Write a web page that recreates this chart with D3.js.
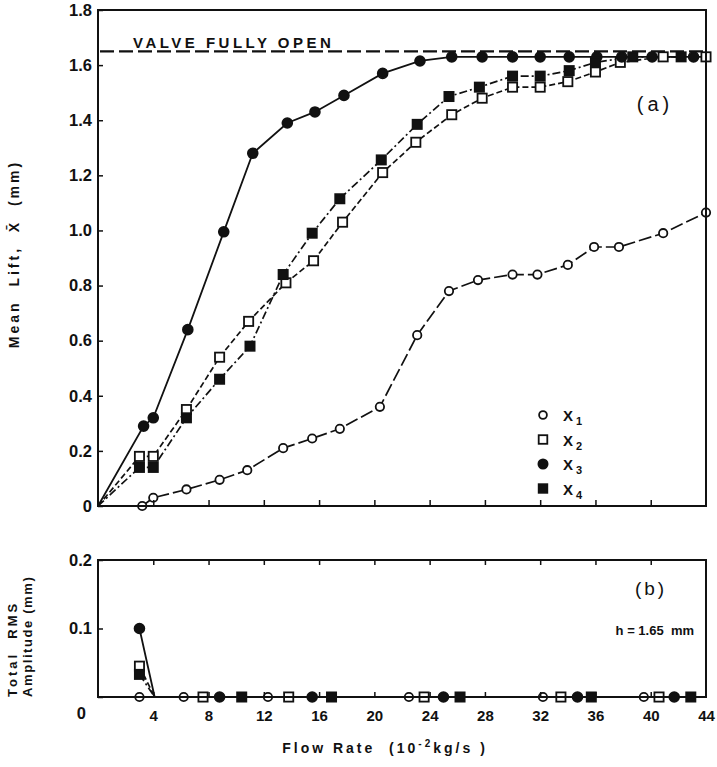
<!DOCTYPE html>
<html>
<head>
<meta charset="utf-8">
<script src="https://cdn.jsdelivr.net/npm/d3@7"></script>
<style>
  body { margin: 0; background: #fff; }
  text { font-family: "Liberation Sans", Arial, sans-serif; font-weight: bold; fill: #111; }
</style>
</head>
<body>
<div id="chart"></div>
<script>
// ---- data ----
var seriesNames = ["X1", "X2", "X3", "X4"];

// (a) mean lift (mm) vs flow rate (10^-2 kg/s)
var flowX1 = [3.2, 4.0, 6.4, 8.8, 10.8, 13.4, 15.5, 17.5, 20.4, 23.1, 25.4, 27.5, 30.0, 31.8, 34.0, 35.9, 37.7, 40.9, 44.0];
var liftX1 = [0.0, 0.03, 0.06, 0.095, 0.13, 0.21, 0.245, 0.28, 0.36, 0.62, 0.78, 0.82, 0.84, 0.84, 0.875, 0.94, 0.94, 0.99, 1.065];

var flowX2 = [0, 3.0, 4.0, 6.4, 8.8, 10.9, 13.6, 15.6, 17.7, 20.6, 23.0, 25.6, 27.8, 30.0, 32.0, 34.0, 36.0, 37.8, 40.9, 44.0];
var liftX2 = [0, 0.18, 0.18, 0.35, 0.54, 0.67, 0.81, 0.89, 1.03, 1.21, 1.32, 1.42, 1.48, 1.52, 1.52, 1.54, 1.575, 1.61, 1.63, 1.63];

var flowX3 = [0, 3.3, 4.0, 6.5, 9.1, 11.2, 13.7, 15.7, 17.8, 20.6, 23.3, 25.6, 27.8, 30.0, 32.0, 34.1, 36.1, 37.9, 40.1, 43.1];
var liftX3 = [0, 0.29, 0.32, 0.64, 0.995, 1.28, 1.39, 1.43, 1.49, 1.57, 1.615, 1.63, 1.63, 1.63, 1.63, 1.63, 1.63, 1.63, 1.63, 1.63];

var flowX4 = [0, 3.0, 4.0, 6.4, 8.8, 11.0, 13.4, 15.5, 17.5, 20.5, 23.1, 25.4, 27.6, 30.0, 32.0, 34.1, 36.0, 38.7, 42.2];
var liftX4 = [0, 0.14, 0.14, 0.32, 0.46, 0.58, 0.84, 0.99, 1.115, 1.256, 1.385, 1.486, 1.52, 1.56, 1.56, 1.58, 1.61, 1.63, 1.63];

var valveOpen = 1.65;

// (b) total RMS amplitude (mm); the 4.1 points are where the lines drop back, no symbol there
var rmsReturn = 4.1;
var rmsFlowX1 = [3.0, 6.2, 12.3, 22.5, 32.2, 39.5];
var rmsX1 = [0.0, 0.0, 0.0, 0.0, 0.0, 0.0];
var rmsFlowX2 = [3.0, 4.1, 7.6, 13.8, 23.6, 33.5, 40.6];
var rmsX2 = [0.045, 0.0, 0.0, 0.0, 0.0, 0.0, 0.0];
var rmsFlowX3 = [3.0, 4.1, 8.8, 15.5, 25.0, 34.7, 41.7];
var rmsX3 = [0.1, 0.0, 0.0, 0.0, 0.0, 0.0, 0.0];
var rmsFlowX4 = [3.0, 4.1, 10.4, 16.9, 26.2, 35.7, 42.9];
var rmsX4 = [0.033, 0.0, 0.0, 0.0, 0.0, 0.0, 0.0];

var liftTicks = [0, 0.2, 0.4, 0.6, 0.8, 1.0, 1.2, 1.4, 1.6, 1.8];
var rmsTicks = [0, 0.1, 0.2];
var flowTicks = [4, 8, 12, 16, 20, 24, 28, 32, 36, 40, 44];

// ---- styles per series ----
var style = {
  X1: { shape: "circle", fill: false, dash: "13,4" },
  X2: { shape: "square", fill: false, dash: "6,3" },
  X3: { shape: "circle", fill: true, dash: null },
  X4: { shape: "square", fill: true, dash: "8,3,2,3" }
};

var W = 717, H = 767;
var svg = d3.select("#chart").append("svg")
  .attr("width", W)
  .attr("height", H)
  .style("background", "#fff");

var x = d3.scaleLinear().domain([0, 44]).range([98, 706]);
var yTop = d3.scaleLinear().domain([0, 1.8]).range([506, 10]);
var yBot = d3.scaleLinear().domain([0, 0.2]).range([697, 560]);

function zip(xs, ys) {
  return xs.map(function(v, i) { return [v, ys[i]]; });
}

var liftData = {
  X1: zip(flowX1, liftX1),
  X2: zip(flowX2, liftX2),
  X3: zip(flowX3, liftX3),
  X4: zip(flowX4, liftX4)
};
var rmsData = {
  X1: zip(rmsFlowX1, rmsX1),
  X2: zip(rmsFlowX2, rmsX2),
  X3: zip(rmsFlowX3, rmsX3),
  X4: zip(rmsFlowX4, rmsX4)
};

function marker(g, name, cx, cy, size) {
  var s = style[name];
  size = size || 4.6;
  if (s.shape == "circle") {
    g.append("circle")
      .attr("cx", cx).attr("cy", cy).attr("r", s.fill ? size + 0.3 : size - 0.4)
      .attr("fill", s.fill ? "#111" : "#fff")
      .attr("stroke", "#111").attr("stroke-width", 1.8);
  } else {
    g.append("rect")
      .attr("x", cx - size).attr("y", cy - size)
      .attr("width", size * 2).attr("height", size * 2)
      .attr("fill", s.fill ? "#111" : "#fff")
      .attr("stroke", "#111").attr("stroke-width", 1.8);
  }
}

function drawSeries(g, data, yScale, skip) {
  seriesNames.forEach(function(name) {
    var line = d3.line()
      .x(function(d) { return x(d[0]); })
      .y(function(d) { return yScale(d[1]); });
    g.append("path")
      .datum(data[name])
      .attr("d", line)
      .attr("fill", "none")
      .attr("stroke", "#111")
      .attr("stroke-width", name == "X3" ? 1.8 : 1.7)
      .attr("stroke-dasharray", style[name].dash);
  });
  seriesNames.forEach(function(name) {
    data[name].forEach(function(d) {
      if (skip(d)) return;
      marker(g, name, x(d[0]), yScale(d[1]));
    });
  });
}

// ---- panel (a) ----
var panelA = svg.append("g");

panelA.append("line")
  .attr("x1", x(0) + 2).attr("x2", x(44))
  .attr("y1", yTop(valveOpen)).attr("y2", yTop(valveOpen))
  .attr("stroke", "#111").attr("stroke-width", 2.2)
  .attr("stroke-dasharray", "14,5");

panelA.append("text")
  .attr("x", 133).attr("y", 48)
  .attr("font-size", 15)
  .attr("letter-spacing", 3.5)
  .text("VALVE FULLY OPEN");

drawSeries(panelA, liftData, yTop, function(d) { return d[0] == 0; });

panelA.append("rect")
  .attr("x", x(0)).attr("y", yTop(1.8))
  .attr("width", x(44) - x(0)).attr("height", yTop(0) - yTop(1.8))
  .attr("fill", "none").attr("stroke", "#111").attr("stroke-width", 2);

var yAxisTop = panelA.append("g")
  .attr("transform", "translate(" + x(0) + ",0)")
  .call(d3.axisLeft(yTop).tickValues(liftTicks).tickSize(-5).tickPadding(6)
    .tickFormat(function(d) { return d == 0 ? "0" : d3.format(".1f")(d); }));
yAxisTop.select(".domain").remove();
yAxisTop.selectAll("line").attr("stroke", "#111").attr("stroke-width", 1.5);
yAxisTop.selectAll("text").attr("font-size", 16.5)
  .style("font-family", "'Liberation Sans', Arial, sans-serif").attr("fill", "#111");

var xAxisTop = panelA.append("g")
  .attr("transform", "translate(0," + yTop(0) + ")")
  .call(d3.axisBottom(x).tickValues(flowTicks.slice(0, -1)).tickSize(-6).tickFormat(""));
xAxisTop.select(".domain").remove();
xAxisTop.selectAll("line").attr("stroke", "#111").attr("stroke-width", 1.5);

panelA.append("text")
  .attr("x", 655).attr("y", 111)
  .attr("text-anchor", "middle")
  .attr("font-size", 20)
  .style("font-weight", "normal")
  .attr("letter-spacing", 4)
  .text("(a)");

// legend
var legend = panelA.append("g");
seriesNames.forEach(function(name, i) {
  var ly = 415 + i * 24.5;
  marker(legend, name, 543, ly, 4.3);
  var t = legend.append("text")
    .attr("x", 563).attr("y", ly + 6)
    .attr("font-size", 15);
  t.append("tspan").text(name.charAt(0));
  t.append("tspan").attr("dx", 3).attr("dy", 4).attr("font-size", 11).text(name.slice(1));
});

panelA.append("text")
  .attr("transform", "translate(19,254) rotate(-90)")
  .attr("text-anchor", "middle")
  .attr("font-size", 14)
  .attr("letter-spacing", 3)
  .attr("xml:space", "preserve")
  .text("Mean  Lift,  X\u0304  (mm)");

// ---- panel (b) ----
var panelB = svg.append("g");

drawSeries(panelB, rmsData, yBot, function(d) { return d[0] == rmsReturn; });

panelB.append("rect")
  .attr("x", x(0)).attr("y", yBot(0.2))
  .attr("width", x(44) - x(0)).attr("height", yBot(0) - yBot(0.2))
  .attr("fill", "none").attr("stroke", "#111").attr("stroke-width", 2);

var yAxisBot = panelB.append("g")
  .attr("transform", "translate(" + x(0) + ",0)")
  .call(d3.axisLeft(yBot).tickValues(rmsTicks).tickSize(-5).tickPadding(6)
    .tickFormat(function(d) { return d == 0 ? "0" : d3.format(".1f")(d); }));
yAxisBot.select(".domain").remove();
yAxisBot.selectAll("line").attr("stroke", "#111").attr("stroke-width", 1.5);
yAxisBot.selectAll("text").attr("font-size", 16.5)
  .style("font-family", "'Liberation Sans', Arial, sans-serif").attr("fill", "#111");
yAxisBot.selectAll(".tick").filter(function(d) { return d == 0; })
  .select("text").attr("dy", "1.3em").attr("x", -12);

var xAxisBot = panelB.append("g")
  .attr("transform", "translate(0," + yBot(0) + ")")
  .call(d3.axisBottom(x).tickValues(flowTicks).tickSize(-5).tickPadding(13));
xAxisBot.select(".domain").remove();
xAxisBot.selectAll("line").attr("stroke", "#111").attr("stroke-width", 1.5);
xAxisBot.selectAll(".tick").filter(function(d) { return d == 44; }).select("line").remove();
xAxisBot.selectAll("text").attr("font-size", 15)
  .style("font-family", "'Liberation Sans', Arial, sans-serif").attr("fill", "#111");

var xAxisBotTop = panelB.append("g")
  .attr("transform", "translate(0," + yBot(0.2) + ")")
  .call(d3.axisTop(x).tickValues(flowTicks.slice(0, -1)).tickSize(-5).tickFormat(""));
xAxisBotTop.select(".domain").remove();
xAxisBotTop.selectAll("line").attr("stroke", "#111").attr("stroke-width", 1.5);

panelB.append("text")
  .attr("x", 651).attr("y", 595)
  .attr("text-anchor", "middle")
  .attr("font-size", 19)
  .style("font-weight", "normal")
  .attr("letter-spacing", 3)
  .text("(b)");

panelB.append("text")
  .attr("x", 694).attr("y", 635)
  .attr("text-anchor", "end")
  .attr("font-size", 13)
  .attr("xml:space", "preserve")
  .text("h = 1.65  mm");

panelB.append("text")
  .attr("transform", "translate(17,697) rotate(-90)")
  .attr("font-size", 13)
  .attr("letter-spacing", 3)
  .attr("xml:space", "preserve")
  .text("Total  RMS");
panelB.append("text")
  .attr("transform", "translate(32,697) rotate(-90)")
  .attr("font-size", 13)
  .attr("letter-spacing", 1.6)
  .text("Amplitude (mm)");

var xt = svg.append("text")
  .attr("x", 385).attr("y", 753)
  .attr("text-anchor", "middle")
  .attr("font-size", 14)
  .attr("letter-spacing", 3)
  .attr("xml:space", "preserve");
xt.append("tspan").text("Flow Rate  (10");
xt.append("tspan").attr("dy", -6).attr("font-size", 10).text("-2");
xt.append("tspan").attr("dy", 6).text("kg/s )");
</script>
</body>
</html>
